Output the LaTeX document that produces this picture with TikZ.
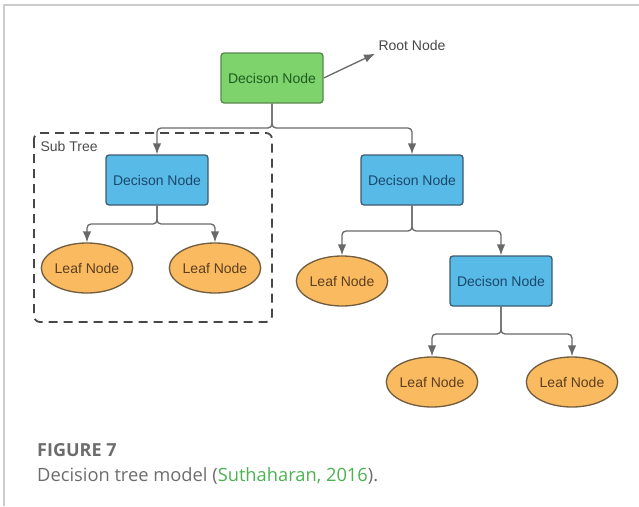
\documentclass[tikz,border=0pt]{standalone}
\usepackage{fontspec}
\setmainfont{Liberation Sans}
\newfontfamily\captionfont{Open Sans}
\usetikzlibrary{arrows.meta}
\usetikzlibrary{shapes.geometric}
\usetikzlibrary{positioning}
\definecolor{rootfill}{RGB}{126,211,108}
\definecolor{rootline}{RGB}{88,136,78}
\definecolor{roottext}{RGB}{30,92,32}
\definecolor{decfill}{RGB}{88,186,230}
\definecolor{decline}{RGB}{62,92,112}
\definecolor{dectext}{RGB}{28,72,110}
\definecolor{leaffill}{RGB}{250,186,96}
\definecolor{leafline}{RGB}{112,92,62}
\definecolor{leaftext}{RGB}{92,62,32}
\definecolor{wiregray}{RGB}{104,104,104}
\definecolor{framegray}{RGB}{204,204,204}
\definecolor{capgray}{RGB}{108,108,108}
\definecolor{citegreen}{RGB}{76,178,80}
\tikzset{nodefont/.style = {font=\fontsize{14}{16}\selectfont}}
\tikzset{decision/.style = {nodefont, draw=decline, fill=decfill, text=dectext,
                            rounded corners=3, line width=1.3, inner sep=0,
                            minimum width=102, minimum height=50}}
\tikzset{rootbox/.style = {decision, draw=rootline, fill=rootfill, text=roottext}}
\tikzset{leaf/.style = {nodefont, ellipse, draw=leafline, fill=leaffill, text=leaftext,
                        line width=1.3, inner sep=0, minimum width=90, minimum height=50}}
\tikzset{wire/.style = {draw=wiregray, line width=1.3, rounded corners=4,
                        -{Latex[length=11pt, width=8.5pt]}}}

\begin{document}
\begin{tikzpicture}[x=1pt, y=-1pt]
      \useasboundingbox (0, 0) rectangle (639, 506);
      \draw [framegray, line width=1.5] (4, 506) -- (4, 5) -- (639, 5);

      % sub tree frame
      \draw [dashed, dash pattern=on 9 off 6, line width=1.8, draw=black!72,
             rounded corners=6] (34, 133) rectangle (272, 322);
      \node [nodefont, text=black!70, anchor=west] (subtree) at (37, 146) {Sub Tree};

      \node [rootbox] (root) at (272, 78) {Decison Node};
      \node [nodefont, text=black!72, anchor=west] (rootlabel) at (375, 45) {Root Node};

      \node [decision] (decleft) at (157, 180) {Decison Node};
      \node [decision] (decright) at (412, 180) {Decison Node};
      \node [leaf] (leafa) at (87, 268) {Leaf Node};
      \node [leaf] (leafb) at (215, 268) {Leaf Node};
      \node [leaf] (leafc) at (342, 281) {Leaf Node};
      \node [decision] (declow) at (501, 281) {Decison Node};
      \node [leaf] (leafd) at (432, 382) {Leaf Node};
      \node [leaf] (leafe) at (572, 382) {Leaf Node};

      \coordinate (rootsplit) at (272, 128);
      \coordinate (leftsplit) at (157, 224);
      \coordinate (rightsplit) at (412, 231);
      \coordinate (lowsplit) at (501, 334);

      \draw [wire] (root.east) -- (rootlabel.south west);
      \draw [wire] (root.south) -- (rootsplit) -| (decleft.north);
      \draw [wire] (root.south) -- (rootsplit) -| (decright.north);
      \draw [wire] (decleft.south) -- (leftsplit) -| (leafa.north);
      \draw [wire] (decleft.south) -- (leftsplit) -| (leafb.north);
      \draw [wire] (decright.south) -- (rightsplit) -| (leafc.north);
      \draw [wire] (decright.south) -- (rightsplit) -| (declow.north);
      \draw [wire] (declow.south) -- (lowsplit) -| (leafd.north);
      \draw [wire] (declow.south) -- (lowsplit) -| (leafe.north);

      % caption
      \node [anchor=base west, inner sep=0, text=capgray,
             font=\captionfont\bfseries\fontsize{18}{22}\selectfont] (figno) at (37, 456) {FIGURE 7};
      \node [anchor=base west, inner sep=0, text=capgray,
             font=\captionfont\fontsize{18.3}{22}\selectfont] (figtext) at (37, 481)
            {Decision tree model (\textcolor{citegreen}{Suthaharan, 2016}).};
    \end{tikzpicture}
\end{document}
